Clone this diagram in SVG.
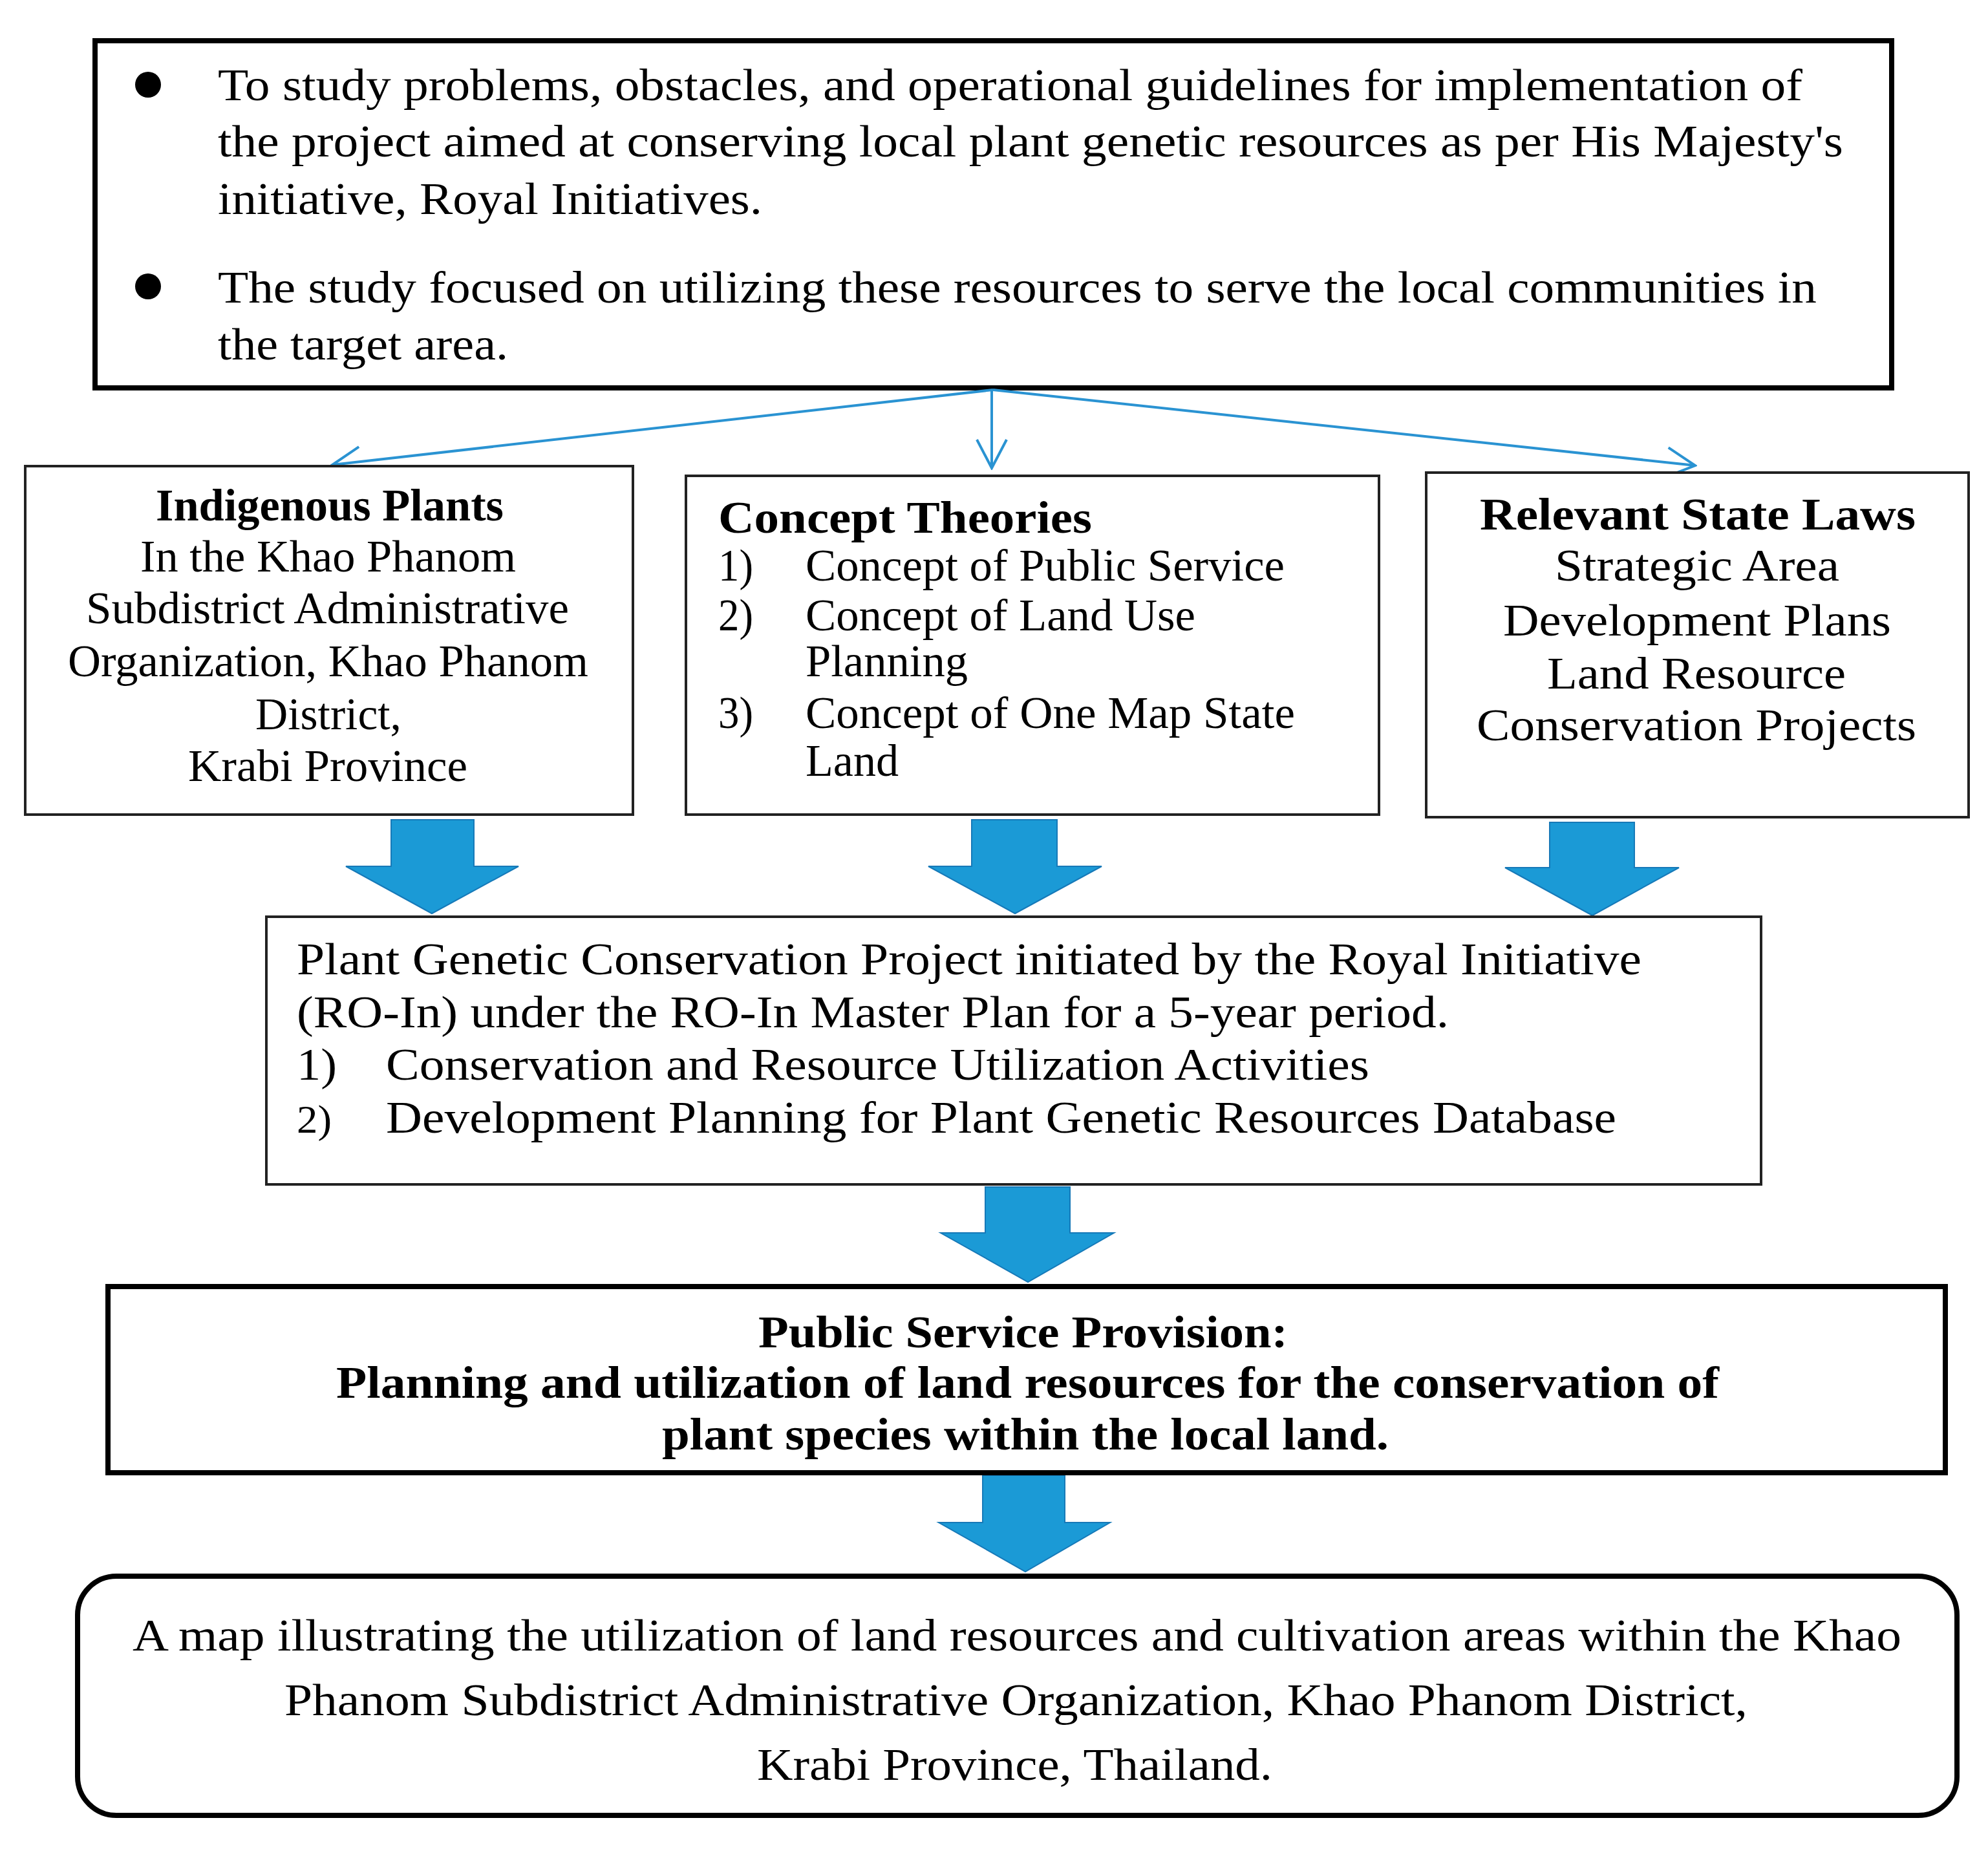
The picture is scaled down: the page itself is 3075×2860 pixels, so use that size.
<svg xmlns="http://www.w3.org/2000/svg" width="3075" height="2860" viewBox="0 0 3075 2860">
<style>
text{font-family:"Liberation Serif","Times New Roman",serif;font-size:70px;fill:#000}
.b{font-weight:bold}
.thick{fill:#fff;stroke:#000;stroke-width:8}
.thin{fill:#fff;stroke:#222;stroke-width:4}
.blk{fill:#1b9ad6;stroke:#1679b8;stroke-width:2}
.con{stroke:#2a93d2;stroke-width:4;fill:none}
</style>
<defs>
<marker id="ah" viewBox="0 0 50 50" refX="47" refY="25" markerWidth="50" markerHeight="50" markerUnits="userSpaceOnUse" orient="auto">
<path d="M3,2 L47,25 L3,48" fill="none" stroke="#2a93d2" stroke-width="4"/>
</marker>
</defs>
<rect width="3075" height="2860" fill="#fff"/>

<g id="objectives">
<rect class="thick" x="147" y="63" width="2779" height="537"/>
<circle cx="229" cy="131" r="20" fill="#000"/>
<circle cx="229" cy="443" r="20" fill="#000"/>
<text x="337" y="155" textLength="2451" lengthAdjust="spacingAndGlyphs">To study problems, obstacles, and operational guidelines for implementation of</text>
<text x="337" y="242" textLength="2514" lengthAdjust="spacingAndGlyphs">the project aimed at conserving local plant genetic resources as per His Majesty's</text>
<text x="337" y="331" textLength="842" lengthAdjust="spacingAndGlyphs">initiative, Royal Initiatives.</text>
<text x="337" y="468" textLength="2473" lengthAdjust="spacingAndGlyphs">The study focused on utilizing these resources to serve the local communities in</text>
<text x="337" y="556" textLength="449" lengthAdjust="spacingAndGlyphs">the target area.</text>
</g>

<g id="connectors">
<line class="con" x1="1536" y1="603" x2="514" y2="719" marker-end="url(#ah)"/>
<line class="con" x1="1534" y1="603" x2="1534" y2="724" marker-end="url(#ah)"/>
<line class="con" x1="1536" y1="603" x2="2622" y2="720" marker-end="url(#ah)"/>
<polygon class="blk" points="605,1268 733,1268 733,1340 802,1340 668,1413 535,1340 605,1340"/>
<polygon class="blk" points="1503,1268 1635,1268 1635,1340 1704,1340 1570,1413 1436,1340 1503,1340"/>
<polygon class="blk" points="2397,1272 2528,1272 2528,1342 2597,1342 2463,1416 2328,1342 2397,1342"/>
<polygon class="blk" points="1524,1836 1655,1836 1655,1907 1723,1907 1590,1983 1455,1907 1524,1907"/>
<polygon class="blk" points="1520,2282 1647,2282 1647,2355 1717,2355 1586,2431 1452,2355 1520,2355"/>
</g>

<g id="indigenous">
<rect class="thin" x="39" y="721" width="940" height="539"/>
<text class="b" x="241" y="805" textLength="538" lengthAdjust="spacingAndGlyphs">Indigenous Plants</text>
<text x="217" y="884" textLength="581" lengthAdjust="spacingAndGlyphs">In the Khao Phanom</text>
<text x="133" y="964" textLength="747" lengthAdjust="spacingAndGlyphs">Subdistrict Administrative</text>
<text x="105" y="1046" textLength="805" lengthAdjust="spacingAndGlyphs">Organization, Khao Phanom</text>
<text x="395" y="1128" textLength="226" lengthAdjust="spacingAndGlyphs">District,</text>
<text x="291" y="1208" textLength="432" lengthAdjust="spacingAndGlyphs">Krabi Province</text>
</g>

<g id="concepts">
<rect class="thin" x="1061" y="736" width="1072" height="524"/>
<text class="b" x="1111" y="824" textLength="578" lengthAdjust="spacingAndGlyphs">Concept Theories</text>
<text x="1111" y="898" textLength="54" lengthAdjust="spacingAndGlyphs">1)</text>
<text x="1246" y="898" textLength="741" lengthAdjust="spacingAndGlyphs">Concept of Public Service</text>
<text x="1111" y="975" textLength="54" lengthAdjust="spacingAndGlyphs">2)</text>
<text x="1246" y="975" textLength="603" lengthAdjust="spacingAndGlyphs">Concept of Land Use</text>
<text x="1246" y="1046" textLength="251" lengthAdjust="spacingAndGlyphs">Planning</text>
<text x="1111" y="1126" textLength="54" lengthAdjust="spacingAndGlyphs">3)</text>
<text x="1246" y="1126" textLength="757" lengthAdjust="spacingAndGlyphs">Concept of One Map State</text>
<text x="1246" y="1200" textLength="144" lengthAdjust="spacingAndGlyphs">Land</text>
</g>

<g id="laws">
<rect class="thin" x="2206" y="731" width="839" height="533"/>
<text class="b" x="2289" y="819" textLength="674" lengthAdjust="spacingAndGlyphs">Relevant State Laws</text>
<text x="2405" y="898" textLength="440" lengthAdjust="spacingAndGlyphs">Strategic Area</text>
<text x="2325" y="983" textLength="600" lengthAdjust="spacingAndGlyphs">Development Plans</text>
<text x="2393" y="1065" textLength="462" lengthAdjust="spacingAndGlyphs">Land Resource</text>
<text x="2284" y="1145" textLength="680" lengthAdjust="spacingAndGlyphs">Conservation Projects</text>
</g>

<g id="project">
<rect class="thin" x="412" y="1418" width="2312" height="414"/>
<text x="459" y="1507" textLength="2080" lengthAdjust="spacingAndGlyphs">Plant Genetic Conservation Project initiated by the Royal Initiative</text>
<text x="459" y="1589" textLength="1782" lengthAdjust="spacingAndGlyphs">(RO-In) under the RO-In Master Plan for a 5-year period.</text>
<text x="459" y="1670" textLength="62" lengthAdjust="spacingAndGlyphs">1)</text>
<text x="597" y="1670" textLength="1521" lengthAdjust="spacingAndGlyphs">Conservation and Resource Utilization Activities</text>
<text x="459" y="1752" style="font-size:62px" textLength="54" lengthAdjust="spacingAndGlyphs">2)</text>
<text x="597" y="1752" textLength="1903" lengthAdjust="spacingAndGlyphs">Development Planning for Plant Genetic Resources Database</text>
</g>

<g id="public-service">
<rect class="thick" x="167" y="1990" width="2842" height="288"/>
<text class="b" x="1173" y="2084" textLength="819" lengthAdjust="spacingAndGlyphs">Public Service Provision:</text>
<text class="b" x="520" y="2162" textLength="2139" lengthAdjust="spacingAndGlyphs">Planning and utilization of land resources for the conservation of</text>
<text class="b" x="1024" y="2242" textLength="1124" lengthAdjust="spacingAndGlyphs">plant species within the local land.</text>
</g>

<g id="map-output">
<rect class="thick" x="120" y="2438" width="2907" height="370" rx="60" ry="60"/>
<text x="205" y="2553" textLength="2736" lengthAdjust="spacingAndGlyphs">A map illustrating the utilization of land resources and cultivation areas within the Khao</text>
<text x="440" y="2653" textLength="2263" lengthAdjust="spacingAndGlyphs">Phanom Subdistrict Administrative Organization, Khao Phanom District,</text>
<text x="1171" y="2753" textLength="797" lengthAdjust="spacingAndGlyphs">Krabi Province, Thailand.</text>
</g>
</svg>
